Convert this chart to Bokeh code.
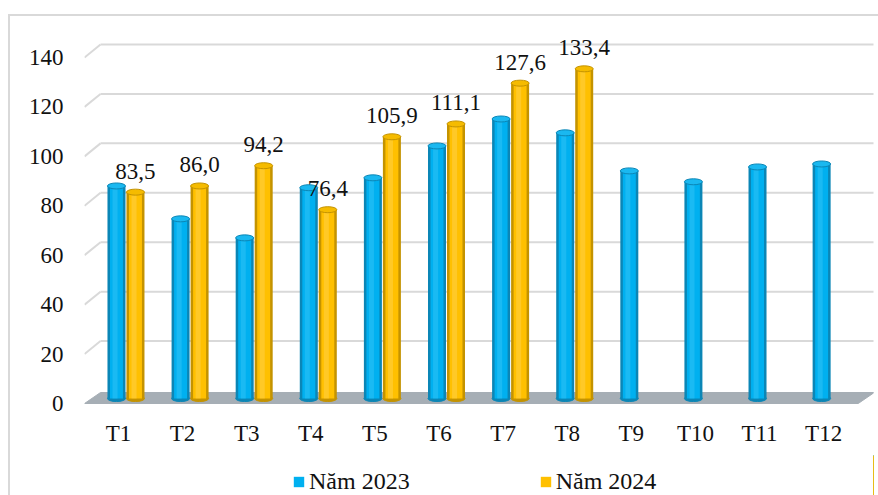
from bokeh.plotting import figure
from bokeh.layouts import column
from bokeh.models import Range1d, FixedTicker, Legend, LegendItem
from bokeh.core.properties import value
from bokeh.embed import file_html
from bokeh.resources import INLINE

# ---- data ----
months = ["T1", "T2", "T3", "T4", "T5", "T6", "T7", "T8", "T9", "T10", "T11", "T12"]
y2023 = [86.0, 72.7, 65.0, 85.3, 89.3, 102.2, 113.1, 107.5, 92.1, 87.7, 93.7, 94.9]
y2024 = [83.5, 86.0, 94.2, 76.4, 105.9, 111.1, 127.6, 133.4]
series_names = ["Năm 2023", "Năm 2024"]
y_ticks = [0, 20, 40, 60, 80, 100, 120, 140]

# ---- geometry (pixel scale of the frame) ----
PX_X = 64.1      # px per category
PX_Y = 2.4714    # px per unit
X0, X1 = 0.47, 12.778
Y0, Y1 = -1.21, 150.93
DX, DY = 16 / PX_X, 13 / PX_Y          # back wall depth shift
FDY = 11 / PX_Y                         # floor depth
MX, MY = 7.5 / PX_X, 5 / PX_Y           # bars sit mid-depth
BAR_W = 18 / PX_X
OFF = 9.5 / PX_X
XL, XR = 0.47, 12.54

FONT = "Liberation Serif"
FS = "23px"
GRID = "#d9d9d9"
BLUE = ("#0b86b6", "#00b0f0", "#33c4f5", "#1ab8f0")
GOLD = ("#c49300", "#ffc000", "#ffd24d", "#f5bb00")

p = figure(width=878, height=455, min_border_left=84, min_border_right=5,
           min_border_top=30, min_border_bottom=49,
           x_range=Range1d(X0, X1), y_range=Range1d(Y0, Y1),
           output_backend="svg", toolbar_location=None)
p.extra_x_ranges = {"back": Range1d(X0 - DX, X1 - DX), "mid": Range1d(X0 - MX, X1 - MX)}
p.extra_y_ranges = {"back": Range1d(Y0 - DY, Y1 - DY), "mid": Range1d(Y0 - MY, Y1 - MY)}
p.outline_line_color = None
p.xgrid.visible = False
p.ygrid.visible = False
p.background_fill_color = "white"
p.border_fill_alpha = 0
p.styles = {
    "background-color": "white",
    "background-image": f"linear-gradient({GRID},{GRID}), linear-gradient({GRID},{GRID})",
    "background-position": "8px 14px, 8px 14px",
    "background-size": "2px 100%, 100% 2px",
    "background-repeat": "no-repeat, no-repeat",
}

# back wall grid lines
gl = [t for t in y_ticks if t > 0]
p.segment(x0=[XL] * len(gl), x1=[XR] * len(gl), y0=gl, y1=gl,
          x_range_name="back", y_range_name="back", line_color=GRID, line_width=2)
# side diagonals (front -> back)
p.segment(x0=[XL] * len(gl), y0=gl, x1=[XL + DX] * len(gl), y1=[t + DY for t in gl],
          line_color=GRID, line_width=2)

# floor
p.patch(x=[XL, XR, XR + DX, XL + DX], y=[0, 0, FDY, FDY],
        fill_color="#a6aeb5", line_color="#a6aeb5", line_width=1)

# bars (cylinders)
xs = list(range(1, len(months) + 1))
def cylinders(xc, vals, cols):
    dark, main, light, top = cols
    n = len(vals)
    p.ellipse(x=xc, y=[0] * n, width=BAR_W, height=6, height_units="screen",
              fill_color=dark, line_color=dark, x_range_name="mid", y_range_name="mid")
    p.vbar(x=xc, width=BAR_W, bottom=0, top=vals, fill_color=dark, line_color=None,
           x_range_name="mid", y_range_name="mid")
    p.vbar(x=xc, width=BAR_W * 0.72, bottom=0, top=vals, fill_color=main, line_color=None,
           x_range_name="mid", y_range_name="mid")
    p.vbar(x=[x - BAR_W * 0.08 for x in xc], width=BAR_W * 0.28, bottom=0, top=vals,
           fill_color=light, line_color=None, fill_alpha=0.5,
           x_range_name="mid", y_range_name="mid")
    p.ellipse(x=xc, y=vals, width=BAR_W, height=6, height_units="screen",
              fill_color=top, line_color=dark, line_width=1,
              x_range_name="mid", y_range_name="mid")

x23 = [x - OFF for x in xs]
x24 = [x + OFF for x in xs[:len(y2024)]]
cylinders(x23, y2023, BLUE)
cylinders(x24, y2024, GOLD)

# data labels for 2024
lbl = [f"{v:.1f}".replace(".", ",") for v in y2024]
p.text(x=x24, y=y2024, text=lbl, x_range_name="mid", y_range_name="mid",
       y_offset=-21, text_align="center", text_baseline="middle",
       text_font=value(FONT), text_font_size=FS, text_color="#111111")

# axes
p.xaxis.ticker = FixedTicker(ticks=xs)
p.xaxis.major_label_overrides = {x: m for x, m in zip(xs, months)}
p.yaxis.ticker = FixedTicker(ticks=y_ticks)
for ax in (p.xaxis[0], p.yaxis[0]):
    ax.axis_line_color = None
    ax.major_tick_line_color = None
    ax.minor_tick_line_color = None
    ax.major_tick_out = 0
    ax.major_tick_in = 0
    ax.major_label_text_font = FONT
    ax.major_label_text_font_size = FS
    ax.major_label_text_color = "#111111"
p.xaxis.major_label_standoff = 14
p.yaxis.major_label_standoff = 21

# ---- legend strip (its own small figure, series drawn off-range) ----
q = figure(width=878, height=40, min_border_left=0, min_border_right=0,
           min_border_top=0, min_border_bottom=0,
           x_range=Range1d(-100, -99), y_range=Range1d(0, 1),
           output_backend="svg", toolbar_location=None)
q.axis.visible = False
q.xgrid.visible = False
q.ygrid.visible = False
q.outline_line_color = None
q.background_fill_alpha = 0
q.border_fill_alpha = 0
q.styles = {
    "background-color": "white",
    "background-image": f"linear-gradient({GRID},{GRID})",
    "background-position": "8px 0px",
    "background-size": "2px 100%",
    "background-repeat": "no-repeat",
}
l23 = q.vbar(x=x23, width=BAR_W, top=y2023, fill_color=BLUE[1], line_color=None)
l24 = q.vbar(x=x24, width=BAR_W, top=y2024, fill_color=GOLD[1], line_color=None)
legend = Legend(items=[LegendItem(label=series_names[0], renderers=[l23]),
                       LegendItem(label=series_names[1], renderers=[l24])],
                orientation="horizontal", location=(208, 0),
                label_text_font=FONT, label_text_font_size="24px", label_text_color="#111111",
                glyph_width=13, glyph_height=13, label_standoff=4, spacing=129,
                border_line_color=None, background_fill_alpha=0, padding=0, margin=0,
                label_height=13)
q.add_layout(legend)

open("out.html", "w").write(file_html(column(p, q, spacing=0), INLINE))
